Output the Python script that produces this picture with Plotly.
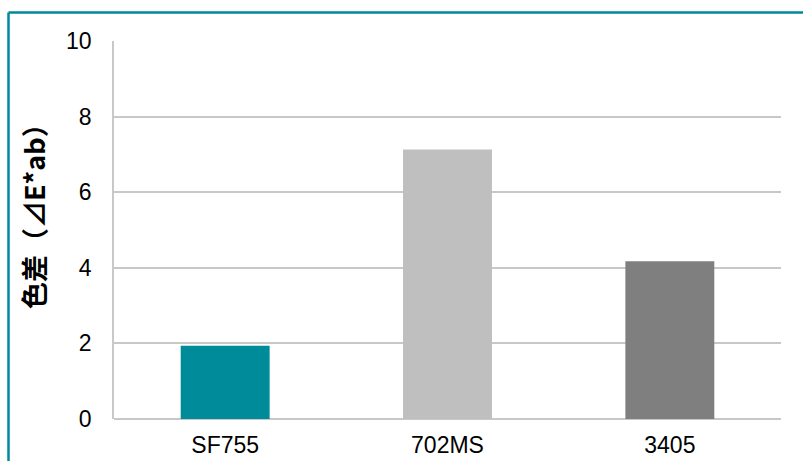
import plotly.graph_objects as go

categories = ["SF755", "702MS", "3405"]
values = [1.94, 7.13, 4.17]
colors = ["#008B9B", "#BFBFBF", "#7F7F7F"]
y_ticks = [0, 2, 4, 6, 8, 10]

W, H = 803, 461
ml, mr, mt, mb = 114, 22, 41, 42
pw, ph = W - ml - mr, H - mt - mb

fig = go.Figure(go.Bar(x=categories, y=values, marker=dict(color=colors, line=dict(width=0)), width=0.4))

fig.update_layout(
    width=W, height=H,
    margin=dict(l=ml, r=mr, t=mt, b=mb, autoexpand=False),
    plot_bgcolor="white", paper_bgcolor="white",
    showlegend=False,
    font=dict(family="Liberation Sans, Arial, sans-serif", size=22, color="#000000"),
    xaxis=dict(showgrid=False, showline=False, ticks="", tickfont=dict(size=23), ticklabelstandoff=10,
               automargin=False),
    yaxis=dict(range=[0, 10], tickvals=y_ticks, showgrid=True, gridcolor="#C8C8C8", gridwidth=1.5,
               showline=True, linecolor="#C8C8C8", linewidth=1.5, zeroline=True, zerolinecolor="#C8C8C8",
               zerolinewidth=1.5, ticks="", tickfont=dict(size=23), ticklabelstandoff=16, automargin=False),
)

# y-axis title as rotated annotation
fig.add_annotation(text="<b>色差（⊿E*ab）</b>", xref="paper", yref="paper",
                   x=(33 - ml) / pw, y=(419 - 210) / ph,
                   xanchor="center", yanchor="middle", textangle=-90, showarrow=False,
                   font=dict(family="Noto Sans CJK JP, sans-serif", size=27, color="#000000"))

# teal frame (top and left edges visible)
bx = (8.5 - ml) / pw
by = 1 + (mt - 12.5) / ph
fig.add_shape(type="line", xref="paper", yref="paper", x0=bx, x1=1 + (W - ml - pw + 10) / pw, y0=by, y1=by,
              line=dict(color="#00899A", width=2.5))
fig.add_shape(type="line", xref="paper", yref="paper", x0=bx, x1=bx, y0=by, y1=-0.3,
              line=dict(color="#00899A", width=2.5))

fig.write_html("out.html")
